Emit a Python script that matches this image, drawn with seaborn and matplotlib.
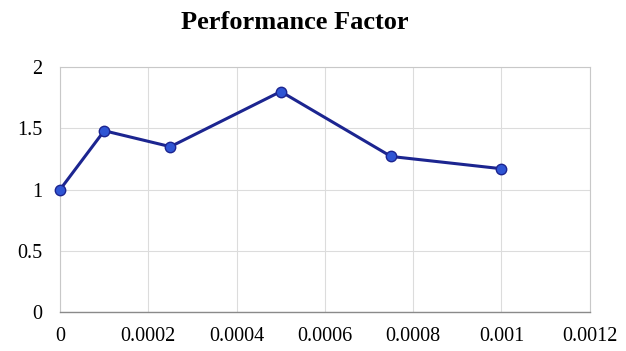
import matplotlib
matplotlib.use("Agg")
import matplotlib.pyplot as plt
import seaborn as sns
import pandas as pd

# Performance factor measured at each setting
x_values = [0.0, 0.0001, 0.00025, 0.0005, 0.00075, 0.001]
performance = [1.0, 1.48, 1.35, 1.80, 1.27, 1.17]
x_ticks = [0, 0.0002, 0.0004, 0.0006, 0.0008, 0.001, 0.0012]
x_tick_labels = ["0", "0.0002", "0.0004", "0.0006", "0.0008", "0.001", "0.0012"]
y_ticks = [0, 0.5, 1, 1.5, 2]
y_tick_labels = ["0", "0.5", "1", "1.5", "2"]

sns.set_style("whitegrid")
plt.rcParams["font.family"] = ["Liberation Serif", "DejaVu Serif"]
plt.rcParams["text.color"] = "black"
plt.rcParams["xtick.color"] = "black"
plt.rcParams["ytick.color"] = "black"

df = pd.DataFrame({"x": x_values, "pf": performance})

fig = plt.figure(figsize=(6.26, 3.51), dpi=100)
ax = fig.add_axes([0.096, 0.111, 0.846, 0.698])

sns.lineplot(data=df, x="x", y="pf", ax=ax, color="#1c2590", linewidth=2.2,
             marker="o", markersize=7.5, markerfacecolor="#2f55d4",
             markeredgecolor="#1c2590", markeredgewidth=1.0, clip_on=False,
             zorder=5)

ax.set_xlim(0, 0.0012)
ax.set_ylim(0, 2)
ax.set_xticks(x_ticks)
ax.set_xticklabels(x_tick_labels)
ax.set_yticks(y_ticks)
ax.set_yticklabels(y_tick_labels)
ax.tick_params(axis="x", labelsize=14.5, pad=11, length=0, labelcolor="black")
ax.tick_params(axis="y", labelsize=14.5, pad=13, length=0, labelcolor="black")
ax.set_xlabel("")
ax.set_ylabel("")

ax.grid(True, color="#dcdcdc", linewidth=0.8)
for side in ["left", "right", "top"]:
    ax.spines[side].set_color("#c8c8c8")
    ax.spines[side].set_linewidth(0.8)
ax.spines["bottom"].set_color("#8a8a8a")
ax.spines["bottom"].set_linewidth(1.0)

fig.text(0.471, 0.935, "Performance Factor", ha="center", va="center",
         fontsize=19, fontweight="bold", color="black")

fig.savefig("out.png", dpi=100)
